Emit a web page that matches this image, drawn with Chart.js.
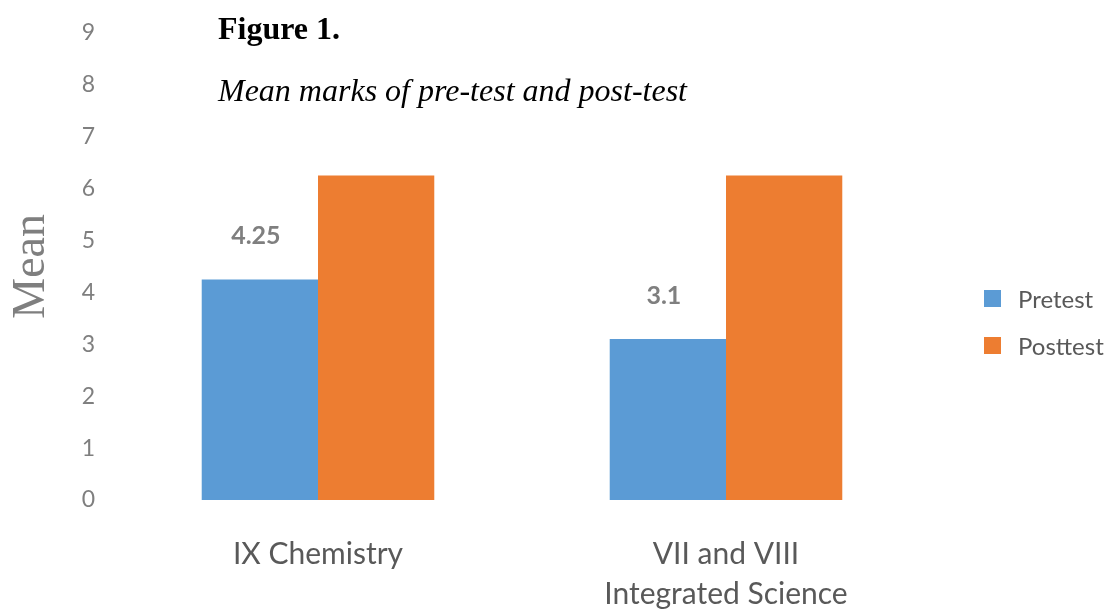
<!DOCTYPE html>
<html>
<head>
<meta charset="utf-8">
<script src="https://cdn.jsdelivr.net/npm/chart.js@4.4.0/dist/chart.umd.min.js"></script>
<style>
  html, body { margin: 0; padding: 0; background: #fff; }
  #wrap { position: relative; width: 1117px; height: 610px; overflow: hidden; }
  #chart { position: absolute; left: 0; top: 0; }
  .cap { position: absolute; left: 218px; font-family: "Liberation Serif", serif; font-size: 32px; line-height: 1; color: #000; white-space: nowrap; }
  #figNo { top: 12px; font-weight: bold; }
  #figTitle { top: 74px; font-style: italic; }
  #legend { position: absolute; left: 984px; top: 275px; font-family: Lato, sans-serif; font-size: 24px; color: #595959; }
  #legend div { height: 47px; display: flex; align-items: center; }
  #legend span.box { display: inline-block; width: 17px; height: 17px; margin-right: 17px; }
</style>
</head>
<body>
<div id="wrap">
  <canvas id="chart" width="1117" height="610"></canvas>
  <div class="cap" id="figNo">Figure 1.</div>
  <div class="cap" id="figTitle">Mean marks of pre-test and post-test</div>
  <div id="legend"></div>
</div>
<script>
const categories = [["IX Chemistry"], ["VII and VIII", "Integrated Science"]];
const seriesNames = ["Pretest", "Posttest"];
const pretest = [4.25, 3.1];
const posttest = [6.25, 6.25]; // tops are cut off in the source figure
const yTicks = [0, 1, 2, 3, 4, 5, 6, 7, 8, 9];
const colors = ["#5b9bd5", "#ed7d31"];

// value labels over the pretest bars only
const pretestLabels = {
  id: "pretestLabels",
  afterDatasetsDraw(chart) {
    const ctx = chart.ctx;
    const meta = chart.getDatasetMeta(0);
    ctx.save();
    ctx.font = "bold 25px Lato, sans-serif";
    ctx.fillStyle = "#7f7f7f";
    ctx.textAlign = "center";
    ctx.textBaseline = "middle";
    meta.data.forEach((bar, i) => {
      ctx.fillText(String(pretest[i]), bar.x - 4, bar.y - 43);
    });
    ctx.restore();
  }
};

new Chart(document.getElementById("chart"), {
  type: "bar",
  data: {
    labels: categories,
    datasets: [
      { label: seriesNames[0], data: pretest, backgroundColor: colors[0] },
      { label: seriesNames[1], data: posttest, backgroundColor: colors[1] }
    ]
  },
  options: {
    responsive: false,
    animation: false,
    layout: { padding: { top: 7, right: 187, left: 0, bottom: 0 } },
    datasets: { bar: { categoryPercentage: 0.57, barPercentage: 1.0 } },
    plugins: { legend: { display: false }, tooltip: { enabled: false } },
    scales: {
      x: {
        grid: { display: false, drawTicks: false },
        border: { display: false },
        ticks: {
          color: "#595959",
          font: { family: "Lato, sans-serif", size: 30, lineHeight: 1.333 },
          padding: 34,
          maxRotation: 0
        },
        afterFit(scale) { scale.height = 110; }
      },
      y: {
        min: 0,
        max: yTicks[yTicks.length - 1],
        grid: { display: false, drawTicks: false },
        border: { display: false },
        afterBuildTicks(scale) { scale.ticks = yTicks.map(v => ({ value: v })); },
        ticks: {
          color: "#7f7f7f",
          font: { family: "Lato, sans-serif", size: 23 },
          padding: 19
        },
        title: {
          display: true,
          text: "Mean",
          color: "#7f7f7f",
          font: { family: "Liberation Serif, serif", size: 46, lineHeight: 1.2 },
          padding: 4
        },
        afterFit(scale) { scale.width = 114; }
      }
    }
  },
  plugins: [pretestLabels]
});

document.getElementById("legend").innerHTML = seriesNames
  .map((n, i) => `<div><span class="box" style="background:${colors[i]}"></span>${n}</div>`)
  .join("");
</script>
</body>
</html>
